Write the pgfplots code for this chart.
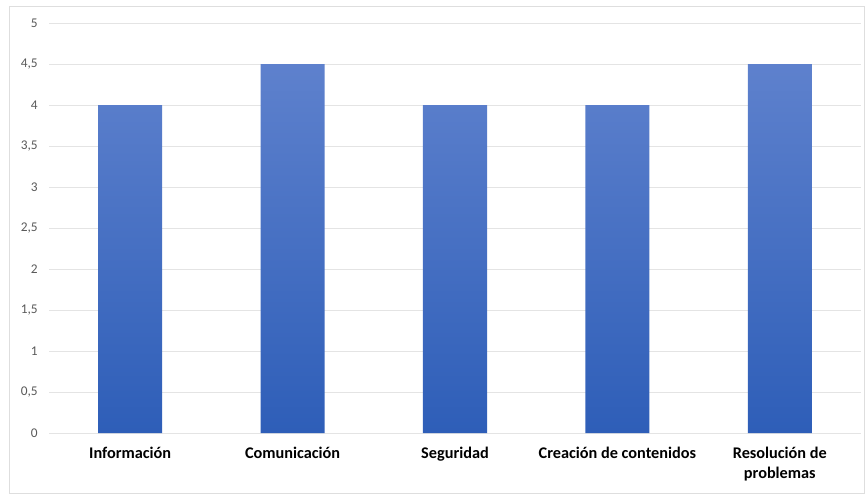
\documentclass[border=0pt]{standalone}
\usepackage{fontspec}
\setmainfont{Carlito}
\usepackage{pgfplots}
\pgfplotsset{compat=1.18}
\definecolor{bartop}{RGB}{94,129,205}
\definecolor{barbot}{RGB}{46,94,184}
\definecolor{gridc}{RGB}{228,228,228}
\definecolor{tickc}{RGB}{89,89,89}
\definecolor{framec}{RGB}{222,222,222}
\begin{document}
\begin{tikzpicture}[x=1pt,y=1pt]
\useasboundingbox (-36.75,-45.75) rectangle (613.5,324.75);
\draw[framec,line width=0.75pt] (-29.25,-45) rectangle (611.25,320.25);
\begin{axis}[
  at={(0,0)}, anchor=south west,
  scale only axis,
  width=609pt, height=307.5pt,
  xmin=-0.5, xmax=4.5, ymin=0, ymax=5,
  axis line style={draw=none},
  ytick={0,0.5,...,5},
  xtick={0,1,2,3,4},
  xticklabels={Información,Comunicación,Seguridad,Creación de contenidos,{Resolución de\\problemas}},
  x tick label style={font=\fontsize{12.2}{15}\selectfont\bfseries, text=black, align=center, yshift=-7pt},
  y tick label style={font=\fontsize{10}{12}\selectfont, text=tickc, xshift=-5pt},
  /pgf/number format/assume math mode=true,
  /pgf/number format/use comma,
  yticklabel style={/pgf/number format/fixed},
  major tick length=0pt,
  ymajorgrids,
  grid style={gridc, line width=0.75pt},
  ]
\addplot[ybar, bar width=48pt, draw=none, top color=bartop, bottom color=barbot]
  coordinates {(0,4) (1,4.5) (2,4) (3,4) (4,4.5)};
\end{axis}
\end{tikzpicture}
\end{document}
